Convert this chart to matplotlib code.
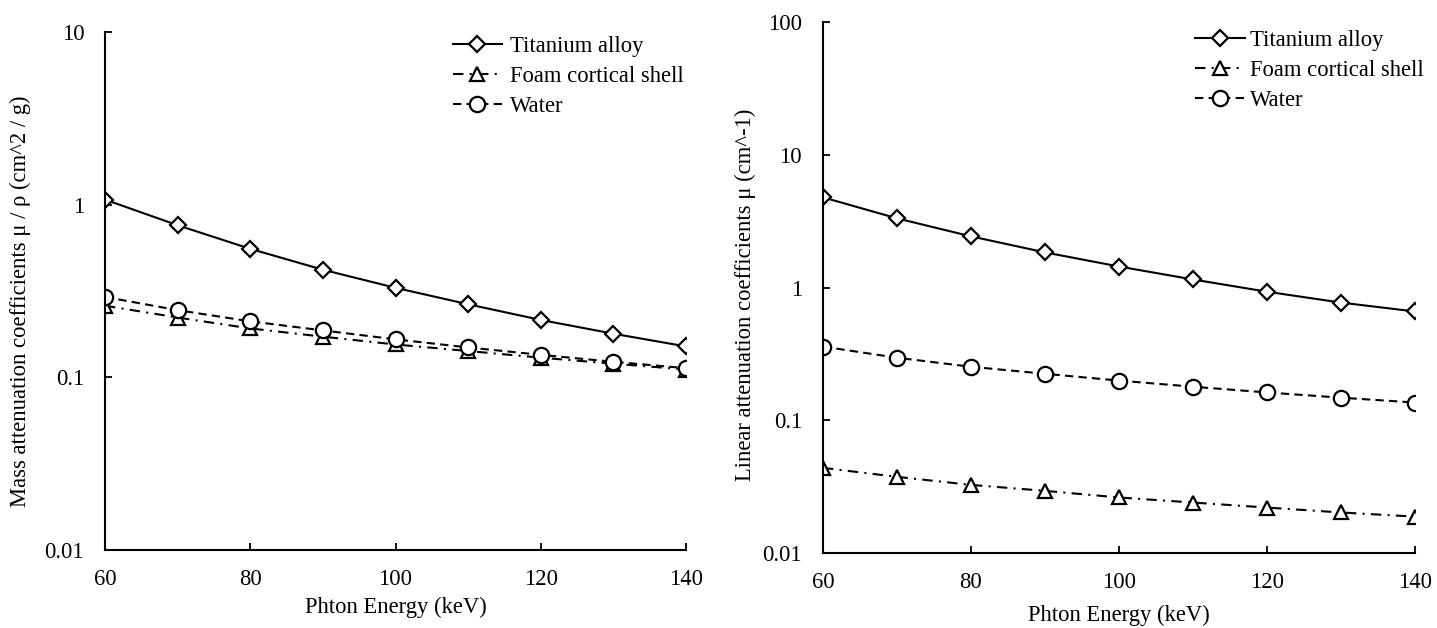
import numpy as np
import matplotlib
matplotlib.use("Agg")
import matplotlib.pyplot as plt

# data
energy = [60, 70, 80, 90, 100, 110, 120, 130, 140]

mass_titanium = [1.07, 0.76, 0.555, 0.42, 0.33, 0.265, 0.215, 0.179, 0.151]
mass_foam = [0.26, 0.222, 0.192, 0.172, 0.155, 0.142, 0.130, 0.120, 0.111]
mass_water = [0.292, 0.245, 0.211, 0.187, 0.166, 0.149, 0.135, 0.123, 0.113]

lin_titanium = [4.78, 3.32, 2.43, 1.84, 1.44, 1.15, 0.93, 0.77, 0.66]
lin_foam = [0.0438, 0.0375, 0.0326, 0.0294, 0.0262, 0.0240, 0.0220, 0.0202, 0.0188]
lin_water = [0.359, 0.296, 0.253, 0.224, 0.199, 0.179, 0.162, 0.148, 0.136]

series_names = ["Titanium alloy", "Foam cortical shell", "Water"]

FS = 16.3
plt.rcParams["font.family"] = ["Liberation Serif", "DejaVu Serif"]
plt.rcParams["font.size"] = FS

fig = plt.figure(figsize=(14.37, 6.28), dpi=100)
ax1 = fig.add_axes([0.0731, 0.1242, 0.4043, 0.8248])
ax2 = fig.add_axes([0.5727, 0.1194, 0.412, 0.8455])

styles = [
    dict(ls="-", marker="D", ms=8),
    dict(ls=(0, (5, 3, 1, 3)), marker="^", ms=10.5),
    dict(ls=(0, (4, 2.5)), marker="o", ms=11),
]


def draw(ax, values, ylim, yticks, ylabel, ylab_xy, xlab_xy):
    for vals, name, st in zip(values, series_names, styles):
        ax.plot(energy, vals, color="black", lw=1.5, label=name,
                mfc="white", mec="black", mew=1.6, **st)
    ax.set_yscale("log")
    ax.set_xlim(60, 140)
    ax.set_ylim(*ylim)
    ax.set_xticks([60, 80, 100, 120, 140])
    ax.set_yticks(yticks)
    ax.set_yticklabels([("%g" % t) for t in yticks])
    ax.yaxis.set_minor_locator(matplotlib.ticker.NullLocator())
    ax.tick_params(direction="in", length=5, width=1.3, pad=15, labelsize=FS)
    ax.tick_params(axis="x", pad=13.5)
    for s in ["top", "right"]:
        ax.spines[s].set_visible(False)
    for s in ["left", "bottom"]:
        ax.spines[s].set_linewidth(1.5)
    ax.set_xlabel("Phton Energy (keV)", fontsize=FS)
    ax.set_ylabel(ylabel, fontsize=FS)
    ax.yaxis.set_label_coords(*ylab_xy)
    ax.xaxis.set_label_coords(*xlab_xy)


draw(ax1, [mass_titanium, mass_foam, mass_water], (0.01, 10),
     [0.01, 0.1, 1, 10], "Mass attenuation coefficients \u03bc / \u03c1 (cm^2 / g)",
     (-0.127, 0.48), (0.5, -0.091))
draw(ax2, [lin_titanium, lin_foam, lin_water], (0.01, 100),
     [0.01, 0.1, 1, 10, 100], "Linear attenuation coefficients \u03bc (cm^-1)",
     (-0.113, 0.486), (0.5, -0.098))

ax1.legend(loc="upper left", bbox_to_anchor=(0.563, 1.032), frameon=False,
           handlelength=2.2, handletextpad=0.35, labelspacing=0.4, fontsize=FS)
ax2.legend(loc="upper left", bbox_to_anchor=(0.594, 1.0235), frameon=False,
           handlelength=2.2, handletextpad=0.22, labelspacing=0.4, fontsize=FS)

plt.savefig("out.png", dpi=100)
